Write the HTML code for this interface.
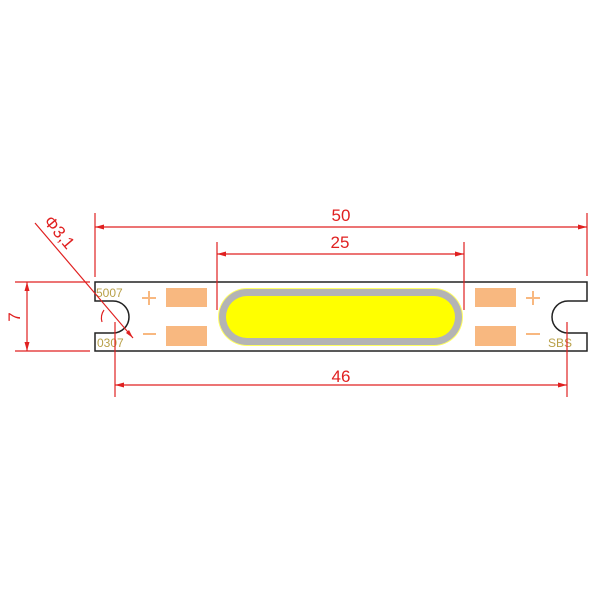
<!DOCTYPE html>
<html><head><style>body{margin:0;background:#fff}svg{display:block}</style></head><body>
<svg width="600" height="600" viewBox="0 0 600 600" xmlns="http://www.w3.org/2000/svg" font-family="Liberation Sans, sans-serif">
<rect width="600" height="600" fill="#fff"/>
<path d="M95,282 H587 V301 H568 A16,16 0 0 0 568,333 H587 V351 H95 V333 H113 A16,16 0 0 0 113,301 H95 Z" fill="#fff" stroke="#222" stroke-width="1.5"/>
<g fill="#f8b880">
<rect x="166" y="288" width="41" height="19"/><rect x="166" y="326" width="41" height="20"/>
<rect x="475" y="288" width="41" height="19"/><rect x="475" y="326" width="41" height="20"/>
</g>
<g stroke="#f8b880" stroke-width="2">
<line x1="142" y1="298" x2="156" y2="298"/><line x1="149" y1="291" x2="149" y2="305"/>
<line x1="143" y1="334" x2="156" y2="334"/>
<line x1="526" y1="298" x2="540" y2="298"/><line x1="533" y1="291" x2="533" y2="305"/>
<line x1="526" y1="334" x2="540" y2="334"/>
</g>
<rect x="218" y="288" width="245" height="58" rx="29" fill="#ffff60"/>
<rect x="219" y="289" width="243" height="56" rx="28" fill="#b4b4b4"/>
<rect x="226" y="296" width="229" height="42" rx="21" fill="#ffff00"/>
<g fill="#b8a048" font-size="12">
<text x="96" y="297">5007</text><text x="97" y="347">0307</text><text x="548" y="347">SBS</text>
</g>
<g stroke="#e02020" stroke-width="1.2" fill="none">
<line x1="95" y1="213" x2="95" y2="277"/><line x1="587" y1="213" x2="587" y2="276"/>
<line x1="95" y1="227" x2="587" y2="227"/>
<line x1="217" y1="242" x2="217" y2="310"/><line x1="464" y1="242" x2="464" y2="310"/>
<line x1="217" y1="254" x2="464" y2="254"/>
<line x1="115" y1="322" x2="115" y2="397"/><line x1="567" y1="322" x2="567" y2="397"/>
<line x1="115" y1="385" x2="567" y2="385"/>
<line x1="15" y1="282" x2="90" y2="282"/><line x1="15" y1="351" x2="90" y2="351"/>
<line x1="27" y1="282" x2="27" y2="351"/>
<line x1="35" y1="223" x2="133" y2="338"/>
<path d="M104,310 A14,14 0 0 0 102,322"/>
</g>
<g fill="#e02020">
<path d="M95,227 l9,-2.5 v5z"/><path d="M587,227 l-9,-2.5 v5z"/>
<path d="M217,254 l9,-2.5 v5z"/><path d="M464,254 l-9,-2.5 v5z"/>
<path d="M115,385 l9,-2.5 v5z"/><path d="M567,385 l-9,-2.5 v5z"/>
<path d="M27,282 l-2.5,9 h5z"/><path d="M27,351 l-2.5,-9 h5z"/>
<path d="M133,338 l-7,-5 l3,-3z"/>
</g>
<g fill="#e02020" font-size="17" text-anchor="middle">
<text x="341" y="221">50</text>
<text x="340" y="248">25</text>
<text x="341" y="382">46</text>
<text transform="translate(20,317) rotate(-90)">7</text>
<text transform="translate(55,236) rotate(50)">Φ3,1</text>
</g>
</svg>
</body></html>
